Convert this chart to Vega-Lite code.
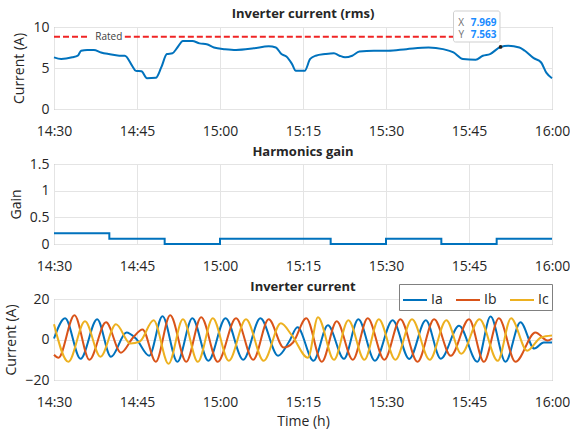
{
  "$schema": "https://vega.github.io/schema/vega-lite/v6.json",
  "autosize": {"type": "pad"},
  "padding": {"left": 4, "top": 7, "right": 0, "bottom": 0},
  "bounds": "flush",
  "spacing": 55,
  "config": {
    "font": "Open Sans",
    "view": {"stroke": "#8c8c8c", "strokeWidth": 1},
    "axis": {"labelFont": "Open Sans", "labelFontSize": 14, "labelColor": "#262626", "titleFont": "Open Sans", "titleFontSize": 14, "titleFontWeight": "normal", "titleColor": "#262626", "domain": false, "ticks": false, "grid": true, "gridColor": "#e4e4e4", "labelPadding": 5},
    "axisX": {"labelPadding": 15, "labelFlush": false, "labelOverlap": false, "labelBound": false, "titlePadding": 5},
    "axisY": {"titlePadding": 6},
    "title": {"font": "Open Sans", "fontSize": 13, "fontWeight": "bold", "color": "#262626"}
  },
  "vconcat": [
    {
      "width": 498,
      "height": 82,
      "title": {"text": "Inverter current (rms)", "offset": -10},
      "encoding": {
        "x": {"field": "m", "type": "quantitative", "scale": {"domain": [0, 90], "nice": false, "zero": false},
          "axis": {"values": [0, 15, 30, 45, 60, 75, 90], "labelExpr": "utcFormat((datum.value + 870) * 60000, '%H:%M')", "title": null}},
        "y": {"field": "v", "type": "quantitative", "scale": {"domain": [0, 10]}, "axis": {"values": [0, 5, 10], "format": "~r", "title": "Current (A)"}}
      },
      "layer": [
        {"data": {"values": [{"m": 0, "m2": 6.5, "v": 8.8}, {"m": 12.8, "m2": 75, "v": 8.8}]},
         "mark": {"type": "rule", "stroke": "#f02424", "strokeWidth": 2, "strokeDash": [6, 3]}, "encoding": {"x2": {"field": "m2"}}},
        {"data": {"values": [
          {"m": 0, "v": 6.3}, {"m": 1.3, "v": 6.1}, {"m": 3.3, "v": 6.3}, {"m": 4.3, "v": 6.5}, {"m": 4.9, "v": 7.1},
          {"m": 6.0, "v": 7.2}, {"m": 7.2, "v": 7.2}, {"m": 8.5, "v": 6.9}, {"m": 9.9, "v": 6.7}, {"m": 11.8, "v": 6.5},
          {"m": 12.8, "v": 6.5}, {"m": 14.1, "v": 5.3}, {"m": 14.8, "v": 4.65}, {"m": 15.8, "v": 4.6}, {"m": 16.8, "v": 3.75},
          {"m": 18.4, "v": 3.8}, {"m": 19.4, "v": 5.1}, {"m": 20.4, "v": 6.7}, {"m": 21.4, "v": 6.8}, {"m": 22.3, "v": 7.5},
          {"m": 23.3, "v": 8.3}, {"m": 25.0, "v": 8.3}, {"m": 26.3, "v": 8.0}, {"m": 27.6, "v": 7.9}, {"m": 28.9, "v": 7.5},
          {"m": 30.9, "v": 7.3}, {"m": 32.9, "v": 7.2}, {"m": 36.1, "v": 7.4}, {"m": 38.8, "v": 7.65}, {"m": 40.1, "v": 7.5},
          {"m": 41.1, "v": 6.7}, {"m": 42.0, "v": 6.4}, {"m": 43.0, "v": 5.5}, {"m": 43.7, "v": 4.65}, {"m": 45.3, "v": 4.65},
          {"m": 46.3, "v": 6.1}, {"m": 47.3, "v": 6.5}, {"m": 49.0, "v": 6.7}, {"m": 50.6, "v": 6.8}, {"m": 51.6, "v": 6.5},
          {"m": 52.6, "v": 6.3}, {"m": 53.9, "v": 6.5}, {"m": 55.2, "v": 7.0}, {"m": 57.8, "v": 7.1}, {"m": 60.4, "v": 7.1},
          {"m": 63.7, "v": 7.3}, {"m": 67.7, "v": 7.5}, {"m": 70.3, "v": 7.3}, {"m": 72.2, "v": 6.9}, {"m": 73.9, "v": 6.1},
          {"m": 76.2, "v": 6.0}, {"m": 77.5, "v": 6.5}, {"m": 78.8, "v": 6.7}, {"m": 80.7, "v": 7.563}, {"m": 82.1, "v": 7.7},
          {"m": 84.1, "v": 7.5}, {"m": 85.1, "v": 7.1}, {"m": 86.7, "v": 6.2}, {"m": 88.0, "v": 5.7}, {"m": 89.0, "v": 4.4},
          {"m": 90, "v": 3.75}]},
         "mark": {"type": "line", "color": "#0072BD", "strokeWidth": 2, "interpolate": "monotone"}},
        {"data": {"values": [{"m": 9.9, "v": 8.8, "label": "Rated"}]},
         "mark": {"type": "text", "fontSize": 10, "color": "#404040"}, "encoding": {"text": {"field": "label"}}},
        {"data": {"values": [{"m": 72.2, "m2": 80.6, "v": 8.17, "v2": 11.95}]},
         "mark": {"type": "rect", "fill": "white", "stroke": "#cfcfcf", "strokeWidth": 1, "cornerRadius": 2},
         "encoding": {"x2": {"field": "m2"}, "y2": {"field": "v2"}}},
        {"data": {"values": [{"m": 80.7, "v": 7.563}]},
         "mark": {"type": "point", "filled": true, "color": "#202020", "size": 14, "opacity": 1}},
        {"data": {"values": [{"m": 73.6, "v": 10.5, "label": "X"}, {"m": 73.6, "v": 9.0, "label": "Y"}]},
         "mark": {"type": "text", "fontSize": 10, "color": "#707070"}, "encoding": {"text": {"field": "label"}}},
        {"data": {"values": [{"m": 75.3, "v": 10.5, "label": "7.969"}, {"m": 75.3, "v": 9.0, "label": "7.563"}]},
         "mark": {"type": "text", "fontSize": 10, "fontWeight": "bold", "color": "#1a8cff", "align": "left"}, "encoding": {"text": {"field": "label"}}}
      ]
    },
    {
      "width": 498,
      "height": 80,
      "title": {"text": "Harmonics gain", "offset": -2},
      "data": {"values": [
        {"m": 0, "g": 0.2}, {"m": 10, "g": 0.1}, {"m": 20, "g": 0}, {"m": 30, "g": 0.1}, {"m": 50, "g": 0},
        {"m": 60, "g": 0.1}, {"m": 70, "g": 0}, {"m": 80, "g": 0.1}, {"m": 90, "g": 0.1}]},
      "mark": {"type": "line", "interpolate": "step-after", "color": "#0072BD", "strokeWidth": 2},
      "encoding": {
        "x": {"field": "m", "type": "quantitative", "scale": {"domain": [0, 90], "nice": false, "zero": false},
          "axis": {"values": [0, 15, 30, 45, 60, 75, 90], "labelExpr": "utcFormat((datum.value + 870) * 60000, '%H:%M')", "title": null}},
        "y": {"field": "g", "type": "quantitative", "scale": {"domain": [0, 1.5]}, "axis": {"values": [0, 0.5, 1, 1.5], "format": "~r", "title": "Gain"}}
      }
    },
    {
      "width": 498,
      "height": 81,
      "title": {"text": "Inverter current", "offset": -2},
      "data": {"values": [
        {"m": 0, "p": "Ia", "i": 0.5}, {"m": 2.0, "p": "Ia", "i": 10.5}, {"m": 4.8, "p": "Ia", "i": -9.5}, {"m": 7.8, "p": "Ia", "i": 10},
        {"m": 10.3, "p": "Ia", "i": -8.5}, {"m": 13.1, "p": "Ia", "i": 3.5}, {"m": 14.8, "p": "Ia", "i": 0.5}, {"m": 17.2, "p": "Ia", "i": -8},
        {"m": 19.6, "p": "Ia", "i": 11.5}, {"m": 22.3, "p": "Ia", "i": -11}, {"m": 25.0, "p": "Ia", "i": 10.5}, {"m": 27.9, "p": "Ia", "i": -10.5},
        {"m": 31.0, "p": "Ia", "i": 10.5}, {"m": 34.2, "p": "Ia", "i": -10}, {"m": 37.3, "p": "Ia", "i": 10.5}, {"m": 40.5, "p": "Ia", "i": -8},
        {"m": 42.5, "p": "Ia", "i": -1}, {"m": 44.0, "p": "Ia", "i": 6}, {"m": 46.9, "p": "Ia", "i": -10.5}, {"m": 49.5, "p": "Ia", "i": 7},
        {"m": 52.4, "p": "Ia", "i": -9.5}, {"m": 55.0, "p": "Ia", "i": 10}, {"m": 58.0, "p": "Ia", "i": -10.5}, {"m": 61.2, "p": "Ia", "i": 9.5},
        {"m": 64.2, "p": "Ia", "i": -9.6}, {"m": 67.2, "p": "Ia", "i": 9.5}, {"m": 69.9, "p": "Ia", "i": -9.5}, {"m": 73.2, "p": "Ia", "i": 6.8},
        {"m": 76.5, "p": "Ia", "i": -11}, {"m": 78.9, "p": "Ia", "i": 11.3}, {"m": 81.6, "p": "Ia", "i": -11}, {"m": 84.3, "p": "Ia", "i": 8.5},
        {"m": 86.8, "p": "Ia", "i": -4.5}, {"m": 88.5, "p": "Ia", "i": -1.5}, {"m": 90, "p": "Ia", "i": -1.5},
        {"m": 0, "p": "Ib", "i": -7.5}, {"m": 0.8, "p": "Ib", "i": -9}, {"m": 3.7, "p": "Ib", "i": 12}, {"m": 6.4, "p": "Ib", "i": -10},
        {"m": 9.4, "p": "Ib", "i": 8.5}, {"m": 12.1, "p": "Ib", "i": -6.5}, {"m": 14.3, "p": "Ib", "i": 1}, {"m": 16.0, "p": "Ib", "i": 5},
        {"m": 18.4, "p": "Ib", "i": -11}, {"m": 21.0, "p": "Ib", "i": 12}, {"m": 23.9, "p": "Ib", "i": -11}, {"m": 26.6, "p": "Ib", "i": 11},
        {"m": 29.6, "p": "Ib", "i": -11}, {"m": 32.9, "p": "Ib", "i": 10.5}, {"m": 36.0, "p": "Ib", "i": -10}, {"m": 38.8, "p": "Ib", "i": 10},
        {"m": 41.5, "p": "Ib", "i": -4}, {"m": 43.2, "p": "Ib", "i": -1.5}, {"m": 45.6, "p": "Ib", "i": 10.5}, {"m": 48.4, "p": "Ib", "i": -11},
        {"m": 51.1, "p": "Ib", "i": 9}, {"m": 54.0, "p": "Ib", "i": -10}, {"m": 56.7, "p": "Ib", "i": 10.5}, {"m": 59.7, "p": "Ib", "i": -10},
        {"m": 62.6, "p": "Ib", "i": 10}, {"m": 65.7, "p": "Ib", "i": -11}, {"m": 68.7, "p": "Ib", "i": 10}, {"m": 71.7, "p": "Ib", "i": -8},
        {"m": 75.0, "p": "Ib", "i": 10}, {"m": 77.7, "p": "Ib", "i": -11}, {"m": 80.4, "p": "Ib", "i": 10.5}, {"m": 83.4, "p": "Ib", "i": -11},
        {"m": 87.0, "p": "Ib", "i": 3.5}, {"m": 89.2, "p": "Ib", "i": -0.5}, {"m": 90, "p": "Ib", "i": 0.5},
        {"m": 0, "p": "Ic", "i": 7.5}, {"m": 2.6, "p": "Ic", "i": -11}, {"m": 5.6, "p": "Ic", "i": 9}, {"m": 8.4, "p": "Ic", "i": -8.5},
        {"m": 11.2, "p": "Ic", "i": 7.5}, {"m": 13.8, "p": "Ic", "i": -2}, {"m": 15.5, "p": "Ic", "i": -1}, {"m": 18.0, "p": "Ic", "i": 9.5},
        {"m": 20.7, "p": "Ic", "i": -12}, {"m": 23.3, "p": "Ic", "i": 10}, {"m": 26.0, "p": "Ic", "i": -11}, {"m": 28.7, "p": "Ic", "i": 10.5},
        {"m": 31.6, "p": "Ic", "i": -10.5}, {"m": 34.7, "p": "Ic", "i": 10}, {"m": 37.9, "p": "Ic", "i": -10.5}, {"m": 41.0, "p": "Ic", "i": 8},
        {"m": 43.0, "p": "Ic", "i": 2}, {"m": 45.9, "p": "Ic", "i": -9}, {"m": 47.7, "p": "Ic", "i": 11}, {"m": 50.6, "p": "Ic", "i": -10},
        {"m": 53.2, "p": "Ic", "i": 9.5}, {"m": 56.1, "p": "Ic", "i": -10}, {"m": 58.7, "p": "Ic", "i": 10}, {"m": 61.7, "p": "Ic", "i": -10},
        {"m": 64.7, "p": "Ic", "i": 10}, {"m": 67.9, "p": "Ic", "i": -10}, {"m": 70.9, "p": "Ic", "i": 9.5}, {"m": 73.6, "p": "Ic", "i": -7},
        {"m": 76.9, "p": "Ic", "i": 10}, {"m": 80.2, "p": "Ic", "i": -10.5}, {"m": 82.6, "p": "Ic", "i": 10.5}, {"m": 85.5, "p": "Ic", "i": -5.5},
        {"m": 88.0, "p": "Ic", "i": 1}, {"m": 90, "p": "Ic", "i": 2}]},
      "mark": {"type": "line", "interpolate": "monotone", "strokeWidth": 2},
      "encoding": {
        "x": {"field": "m", "type": "quantitative", "scale": {"domain": [0, 90], "nice": false, "zero": false},
          "axis": {"values": [0, 15, 30, 45, 60, 75, 90], "labelExpr": "utcFormat((datum.value + 870) * 60000, '%H:%M')", "title": "Time (h)"}},
        "y": {"field": "i", "type": "quantitative", "scale": {"domain": [-20, 20]}, "axis": {"values": [-20, 0, 20], "format": "~r", "title": "Current (A)"}},
        "color": {"field": "p", "type": "nominal",
          "scale": {"domain": ["Ia", "Ib", "Ic"], "range": ["#0072BD", "#D95319", "#EDB120"]},
          "legend": {"orient": "none", "legendX": 345, "legendY": 257, "direction": "horizontal", "title": null, "symbolType": "stroke", "symbolSize": 576, "symbolStrokeWidth": 2, "labelFont": "Open Sans", "labelFontSize": 14, "labelColor": "#262626", "strokeColor": "#808080", "fillColor": "white", "padding": 3, "columnPadding": 9, "labelOffset": 3}}
      }
    }
  ]
}
